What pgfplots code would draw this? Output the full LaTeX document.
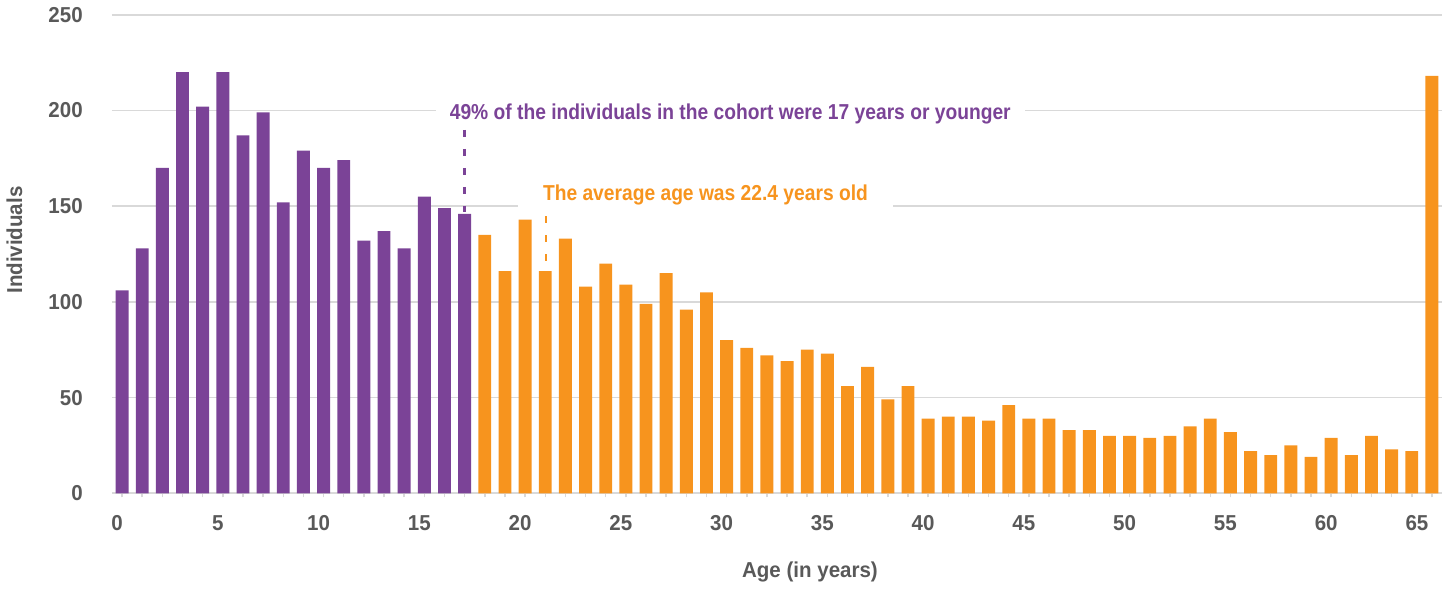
\documentclass[border=0pt]{standalone}
\usepackage{fontspec}
\setmainfont{Liberation Sans}[FakeStretch=0.95]
\newfontfamily\annfont{Liberation Sans}[FakeStretch=0.89]
\usepackage{pgfplots}
\pgfplotsset{compat=1.18}
\definecolor{purp}{RGB}{123,67,151}
\definecolor{orng}{RGB}{247,148,30}
\definecolor{txtgray}{RGB}{89,89,89}
\definecolor{gridgray}{RGB}{217,217,217}
\newcommand{\lblfont}{\fontsize{10.8}{13}\selectfont\bfseries}
\newcommand{\annlblfont}{\annfont\fontsize{10.8}{13}\selectfont\bfseries}
\begin{document}
\begin{tikzpicture}
\useasboundingbox (-56pt,-47.85pt) rectangle (665pt,246.65pt);
\begin{axis}[
  scale only axis, width=665pt, height=239.3pt,
  xmin=-0.5, xmax=65.5, ymin=0, ymax=250,
  axis line style={draw=none},
  ytick={0,50,...,250}, ymajorgrids,
  grid style={gridgray, line width=0.85pt},
  ytick style={draw=none},
  xtick={0,5,...,60}, minor xtick={0,...,65},
  extra x ticks={65},
  extra x tick style={xticklabel style={xshift=-5pt}},
  xtick pos=left, tick align=outside,
  major tick length=2pt, minor tick length=2pt,
  xtick style={gridgray, line width=0.75pt},
  minor tick style={gridgray, line width=0.75pt},
  /pgf/number format/assume math mode=true,
  ticklabel style={font=\lblfont, text=txtgray},
  xticklabel style={xshift=-2.5pt, yshift=-5.5pt},
  yticklabel style={xshift=-9.1pt},
  xlabel={Age (in years)},
  xlabel style={at={([yshift=-39.2pt]axis description cs:0.5248,0)}, anchor=center, font=\lblfont, text=txtgray},
  ylabel={Individuals},
  ylabel style={at={([xshift=-48.75pt]axis description cs:0,0.529)}, anchor=center, font=\lblfont, text=txtgray},
  clip=false,
]
\addplot[ybar, bar width=0.64, bar shift=0pt, fill=purp, draw=none] coordinates {
(0,106) (1,128) (2,170) (3,220) (4,202) (5,220) (6,187) (7,199) (8,152) (9,179)
(10,170) (11,174) (12,132) (13,137) (14,128) (15,155) (16,149) (17,146)
};
\addplot[ybar, bar width=0.64, bar shift=0pt, fill=orng, draw=none] coordinates {
(18,135) (19,116) (20,143) (21,116) (22,133) (23,108) (24,120) (25,109) (26,99) (27,115)
(28,96) (29,105) (30,80) (31,76) (32,72) (33,69) (34,75) (35,73) (36,56) (37,66)
(38,49) (39,56) (40,39) (41,40) (42,40) (43,38) (44,46) (45,39) (46,39) (47,33)
(48,33) (49,30) (50,30) (51,29) (52,30) (53,35) (54,39) (55,32) (56,22) (57,20)
(58,25) (59,19) (60,29) (61,20) (62,30) (63,23) (64,22) (65,218)
};
\node[anchor=west, fill=white, inner xsep=7pt, inner ysep=3pt, text=purp, font=\annlblfont]
  at (axis cs:15.55,198.2) {49\% of the individuals in the cohort were 17 years or younger};
\draw[purp, line width=1.2pt, dash pattern=on 3.5pt off 6pt] (axis cs:17,189.8) -- (axis cs:17,147);
\node[anchor=west, fill=white, inner xsep=12.5pt, inner ysep=3pt, text=orng, font=\annlblfont]
  at (axis cs:19.63,155.6) {The average age was 22.4 years old};
\draw[orng, line width=1.2pt, dash pattern=on 3.5pt off 6pt] (axis cs:21.05,144.7) -- (axis cs:21.05,119.3);
\end{axis}
\end{tikzpicture}
\end{document}
